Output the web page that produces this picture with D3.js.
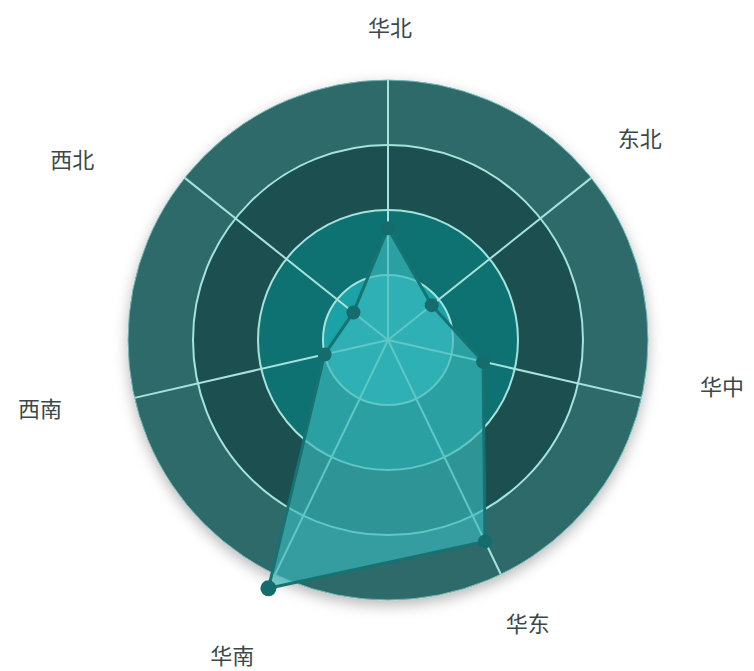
<!DOCTYPE html>
<html>
<head>
<meta charset="utf-8">
<script src="https://cdn.jsdelivr.net/npm/d3@7/dist/d3.min.js"></script>
<style>
  html, body { margin: 0; padding: 0; background: #fff; }
  svg { display: block; }
</style>
</head>
<body>
<script>
// regions, clockwise from top
var regions = ["华北", "东北", "华中", "华东", "华南", "西南", "西北"];
var values = [43, 21.5, 37.5, 86, 106, 25, 17];
var ringLevels = [25, 50, 75, 100];
var ringColors = ["#1aa2a6", "#0f7272", "#1b4f50", "#2f6a69"];

var width = 754, height = 671;
var cx = 388, cy = 340, R = 260;

// hand tweaks so the names sit where the original put them
var labelNudge = [[2, 10], [0, 0], [20, -24], [0, -6], [-16, 26], [-34, -2], [-64, 21]];

var svg = d3.select("body").append("svg")
    .attr("width", width)
    .attr("height", height);

var defs = svg.append("defs");
var shadow = defs.append("filter")
    .attr("id", "shadow")
    .attr("x", "-20%").attr("y", "-20%")
    .attr("width", "140%").attr("height", "140%");
shadow.append("feDropShadow")
    .attr("dx", 0).attr("dy", 5)
    .attr("stdDeviation", 7)
    .attr("flood-color", "#000")
    .attr("flood-opacity", 0.28);

var r = d3.scaleLinear().domain([0, 100]).range([0, R]);
var angle = d3.scaleLinear().domain([0, regions.length]).range([0, 2 * Math.PI]);

function px(i, v) { return cx + r(v) * Math.sin(angle(i)); }
function py(i, v) { return cy - r(v) * Math.cos(angle(i)); }

var g = svg.append("g");

// rings, outermost first
var rings = ringLevels.map(function (d, i) { return { level: d, color: ringColors[i] }; }).reverse();
g.selectAll("circle.ring")
    .data(rings)
    .enter()
    .append("circle")
    .attr("class", "ring")
    .attr("cx", cx)
    .attr("cy", cy)
    .attr("r", function (d) { return r(d.level); })
    .attr("fill", function (d) { return d.color; })
    .attr("stroke", function (d, i) { return i === 0 ? "#6fb9b4" : "#a6e3dd"; })
    .attr("stroke-width", function (d, i) { return i === 0 ? 1 : 2; })
    .attr("filter", function (d, i) { return i === 0 ? "url(#shadow)" : null; });

// spokes
g.selectAll("line.axis")
    .data(regions)
    .enter()
    .append("line")
    .attr("class", "axis")
    .attr("x1", cx)
    .attr("y1", cy)
    .attr("x2", function (d, i) { return px(i, 100); })
    .attr("y2", function (d, i) { return py(i, 100); })
    .attr("stroke", "#a6e3dd")
    .attr("stroke-width", 2);

// data area
var line = d3.line()
    .x(function (d, i) { return px(i, d); })
    .y(function (d, i) { return py(i, d); })
    .curve(d3.curveLinearClosed);

g.append("path")
    .datum(values)
    .attr("d", line)
    .attr("fill", "#3ab8bb")
    .attr("fill-opacity", 0.66)
    .attr("stroke", "#177272")
    .attr("stroke-width", 3)
    .attr("stroke-linejoin", "round");

g.selectAll("circle.pt")
    .data(values)
    .enter()
    .append("circle")
    .attr("class", "pt")
    .attr("cx", function (d, i) { return px(i, d); })
    .attr("cy", function (d, i) { return py(i, d); })
    .attr("r", function (d) { return d > 100 ? 8 : 7; })
    .attr("fill", "#156c6c");

// labels
var labelR = 100 * 322 / R;
svg.selectAll("text.name")
    .data(regions)
    .enter()
    .append("text")
    .attr("class", "name")
    .attr("x", function (d, i) { return px(i, labelR) + labelNudge[i][0]; })
    .attr("y", function (d, i) { return py(i, labelR) + labelNudge[i][1]; })
    .attr("dy", "0.35em")
    .attr("text-anchor", "middle")
    .attr("font-family", "'Noto Sans CJK SC', 'Noto Sans', sans-serif")
    .attr("font-size", 22)
    .attr("fill", "#3a4848")
    .text(function (d) { return d; });
</script>
</body>
</html>
